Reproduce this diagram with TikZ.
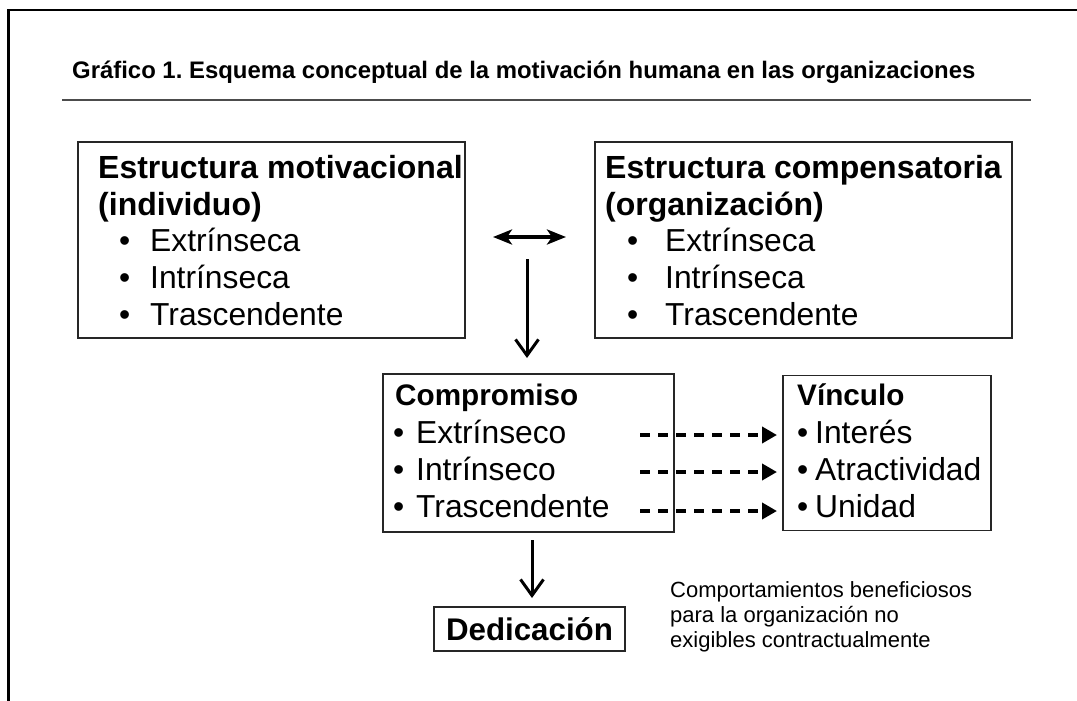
\documentclass[tikz,border=0pt]{standalone}
\usepackage{fontspec}
\setmainfont{Liberation Sans}
\usetikzlibrary{arrows.meta}
\begin{document}
\frenchspacing
\begin{tikzpicture}[x=1pt,y=-1pt,
  box/.style={draw=black!85, line width=1.7pt, inner sep=0pt, outer sep=0pt},
  txt/.style={anchor=base west, inner sep=0pt, font=\fontsize{31.8}{38}\selectfont},
  head/.style={anchor=base west, inner sep=0pt, font=\fontsize{32}{38}\selectfont\bfseries},
  headsm/.style={anchor=base west, inner sep=0pt, font=\fontsize{29.7}{36}\selectfont\bfseries},
  note/.style={anchor=base west, inner sep=0pt, font=\fontsize{22}{26}\selectfont},
  bul/.style={anchor=base west, inner sep=0pt, font=\fontsize{31.8}{38}\selectfont},
  downarrow/.style={line width=3pt, -{Straight Barb[length=16pt,width=23pt,line width=3pt]}},
  dasharrow/.style={line width=4.8pt, dash pattern=on 9.5pt off 8.5pt, -{Triangle[length=15pt,width=16pt]}}
]
\useasboundingbox (0,0) rectangle (1077,701);
\fill[white] (0,0) rectangle (1077,701);
% frame
\draw[line width=2.5pt] (8.5,701) -- (8.5,10) -- (1077,10);
% title
\node[anchor=base west, inner sep=0pt, font=\fontsize{23.9}{28}\selectfont\bfseries] (title) at (72,78) {Gráfico 1. Esquema conceptual de la motivación humana en las organizaciones};
\draw[line width=2pt, black!70] (62,100) -- (1031,100);

% boxes
\node[box, minimum width=387, minimum height=196] (b1) at (271.5,240) {};
\node[box, minimum width=417, minimum height=196] (b2) at (803.5,240) {};
\node[box, minimum width=291, minimum height=158] (b3) at (528.5,453) {};
\node[box, minimum width=208, minimum height=155] (b4) at (887,453) {};
\node[box, minimum width=191, minimum height=44] (b5) at (529.5,629) {};

% box 1 text
\node[head] (b1h1) at (98,178) {Estructura motivacional};
\node[head] (b1h2) at (98,215) {(individuo)};
\node[bul] (b1p1) at (119,251) {•};
\node[txt] (b1t1) at (150,251) {Extrínseca};
\node[bul] (b1p2) at (119,288) {•};
\node[txt] (b1t2) at (150,288) {Intrínseca};
\node[bul] (b1p3) at (119,325) {•};
\node[txt] (b1t3) at (150,325) {Trascendente};

% box 2 text
\node[head] (b2h1) at (605,178) {Estructura compensatoria};
\node[head] (b2h2) at (605,215) {(organización)};
\node[bul] (b2p1) at (627,251) {•};
\node[txt] (b2t1) at (665,251) {Extrínseca};
\node[bul] (b2p2) at (627,288) {•};
\node[txt] (b2t2) at (665,288) {Intrínseca};
\node[bul] (b2p3) at (627,325) {•};
\node[txt] (b2t3) at (665,325) {Trascendente};

% box 3 text
\node[headsm] (b3h) at (395,405) {Compromiso};
\node[bul] (b3p1) at (393,443) {•};
\node[txt] (b3t1) at (416,443) {Extrínseco};
\node[bul] (b3p2) at (393,480) {•};
\node[txt] (b3t2) at (416,480) {Intrínseco};
\node[bul] (b3p3) at (393,517) {•};
\node[txt] (b3t3) at (416,517) {Trascendente};

% box 4 text
\node[headsm] (b4h) at (797,405) {Vínculo};
\node[bul] (b4p1) at (797,443) {•};
\node[txt] (b4t1) at (815,443) {Interés};
\node[bul] (b4p2) at (797,480) {•};
\node[txt] (b4t2) at (815,480) {Atractividad};
\node[bul] (b4p3) at (797,517) {•};
\node[txt] (b4t3) at (815,517) {Unidad};

% box 5 text
\node[font=\fontsize{31.3}{38}\selectfont\bfseries, inner sep=0pt] (b5t) at (b5) {Dedicación};

% note
\node[note] (n1) at (670,597) {Comportamientos beneficiosos};
\node[note] (n2) at (670,622) {para la organización no};
\node[note] (n3) at (670,647) {exigibles contractualmente};

% arrows
\coordinate (dl) at (493,237);
\coordinate (dr) at (566,237);
\draw[line width=3.6pt, {Stealth[length=19pt,width=15pt,inset=5pt]}-{Stealth[length=19pt,width=15pt,inset=5pt]}] (dl) -- (dr);

\coordinate (d1s) at (527,259);
\coordinate (d1e) at (527,358);
\draw[downarrow] (d1s) -- (d1e);

\coordinate (d2s) at (532,540);
\coordinate (d2e) at (532,598);
\draw[downarrow] (d2s) -- (d2e);

\coordinate (a1s) at (640,435);
\coordinate (a1e) at (777,435);
\coordinate (a2s) at (640,472);
\coordinate (a2e) at (777,472);
\coordinate (a3s) at (640,511);
\coordinate (a3e) at (777,511);
\draw[dasharrow] (a1s) -- (a1e);
\draw[dasharrow] (a2s) -- (a2e);
\draw[dasharrow] (a3s) -- (a3e);
\end{tikzpicture}
\end{document}
